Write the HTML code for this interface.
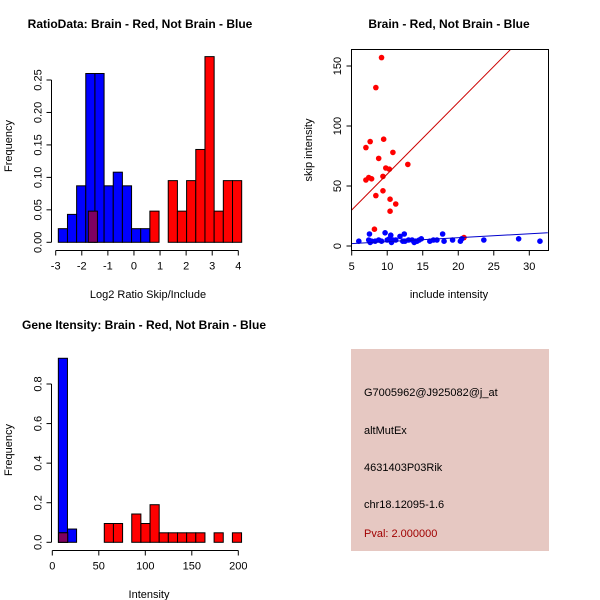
<!DOCTYPE html>
<html><head><meta charset="utf-8"><style>
body{margin:0;background:#fff}
svg{display:block;font-family:"Liberation Sans",Arial,sans-serif}
</style></head><body>
<svg id="c" width="600" height="600" viewBox="0 0 600 600">
<rect width="600" height="600" fill="#fff"/>
<text x="140" y="28" font-size="12" font-weight="bold" text-anchor="middle">RatioData: Brain - Red, Not Brain - Blue</text>
<text x="449" y="28" font-size="12" font-weight="bold" text-anchor="middle">Brain - Red, Not Brain - Blue</text>
<text x="144" y="329" font-size="12" font-weight="bold" text-anchor="middle">Gene Itensity: Brain - Red, Not Brain - Blue</text>
<text x="148" y="298" font-size="11" text-anchor="middle">Log2 Ratio Skip/Include</text>
<text x="12" y="146" font-size="11" text-anchor="middle" transform="rotate(-90 12 146)">Frequency</text>
<text x="449" y="298" font-size="11" text-anchor="middle">include intensity</text>
<text x="312" y="150" font-size="11" text-anchor="middle" transform="rotate(-90 312 150)">skip intensity</text>
<text x="149" y="598" font-size="11" text-anchor="middle">Intensity</text>
<text x="12" y="450" font-size="11" text-anchor="middle" transform="rotate(-90 12 450)">Frequency</text>
<g>
<rect x="351" y="349" width="198" height="202" fill="#e6c8c2"/>
<text x="364" y="396" font-size="11">G7005962@J925082@j_at</text>
<text x="364" y="434" font-size="11">altMutEx</text>
<text x="364" y="471" font-size="11">4631403P03Rik</text>
<text x="364" y="508" font-size="11">chr18.12095-1.6</text>
<text x="364" y="537" font-size="11" fill="#a00000">Pval: 2.000000</text>
</g>
</svg>
<script>
// Ratio histogram data
const ratioBlueStart = -2.9, ratioBlueWidth = 0.351;
const ratioBlueHeights = [0.021,0.043,0.087,0.26,0.26,0.087,0.108,0.087,0.021,0.021];
const ratioRedStart = 0.61, ratioRedWidth = 0.352;
const ratioRedHeights = [0.048,0,0.095,0.048,0.095,0.143,0.286,0.048,0.095,0.095];
const ratioOverlapBins = [[-1.75,-1.4,0.048]];
const ratioXTicks = [-3,-2,-1,0,1,2,3,4];
const ratioYTicks = [0,0.05,0.10,0.15,0.20,0.25];
const ratioYLabels = ["0.00","0.05","0.10","0.15","0.20","0.25"];
// Scatter data
const redInclude = [7,7.4,7.8,7,7.6,8.4,9.2,8.8,9.5,9.8,10.3,10.8,12.9,9.4,8.4,9.4,10.4,11.2,10.4,8.2,20.8];
const redSkip = [55,57,56,82,87,132,157,73,89,65,64,78,68,58,42,46,39,35,29,14,7];
const blueInclude = [6,7.5,7.4,7.8,8.3,8.8,9.2,9.7,10,10.3,10.5,10.8,11.2,11.8,12.4,12.5,13,13.5,14,14.5,14.8,16,16.5,17,17.8,18,19.2,20.3,20.5,23.6,28.5,31.5,7.6,10.6,12.2,13.8,14.2];
const blueSkip = [4,10,5,4,4,5,4,11,5,6,9,5,5,8,10,4,5,5,4,5,6,4,5,5,10,4,5,4,6,5,6,4,3,3,4,3,4];
const redFit = [[5,30],[27.4,164]];
const blueFit = [[4.9,2],[32.6,11]];
const scatterXTicks = [5,10,15,20,25,30];
const scatterYTicks = [0,50,100,150];
// Intensity histogram data
const intBlueStart = 6.5, intBlueWidth = 9.8;
const intBlueHeights = [0.93,0.067];
const intRedStart = 6.7, intRedWidth = 9.84;
const intRedHeights = [0.048,0,0,0,0,0.095,0.095,0,0.143,0.095,0.19,0.048,0.048,0.048,0.048,0.048,0,0.048,0,0.048];
const intOverlapBins = [[6.7,16.5,0.048]];
const intXTicks = [0,50,100,150,200];
const intYTicks = [0,0.2,0.4,0.6,0.8];
const intYLabels = ["0.0","0.2","0.4","0.6","0.8"];

const svg = document.getElementById('c');
const NS = 'http://www.w3.org/2000/svg';
function mk(tag, attrs, parent){const e=document.createElementNS(NS,tag);for(const k in attrs)e.setAttribute(k,attrs[k]);(parent||svg).appendChild(e);return e;}
function lin(d0,d1,r0,r1){return v=>r0+(v-d0)*(r1-r0)/(d1-d0);}

function hist(name,xs,ys,blueStart,blueW,blueH,redStart,redW,redH,overlap,xt,yt,yl,axY,axX){
  const g=mk('g',{});
  
  
  blueH.forEach((h,i)=>{ if(h<=0) return;
    const x0=xs(blueStart+i*blueW),x1=xs(blueStart+(i+1)*blueW);
    const r=mk('rect',{x:x0,y:ys(h),width:x1-x0,height:ys(0)-ys(h),fill:'#0000ff',stroke:'#000','stroke-width':1},g);
    
    
  });
  redH.forEach((h,i)=>{ if(h<=0) return;
    const x0=xs(redStart+i*redW),x1=xs(redStart+(i+1)*redW);
    const r=mk('rect',{x:x0,y:ys(h),width:x1-x0,height:ys(0)-ys(h),fill:'#ff0000',stroke:'#000','stroke-width':1},g);
    
    
  });
  overlap.forEach(b=>{
    const r=mk('rect',{x:xs(b[0]),y:ys(b[2]),width:xs(b[1])-xs(b[0]),height:ys(0)-ys(b[2]),fill:'#800060',stroke:'#000','stroke-width':1},g);
    
    
  });
  mk('line',{x1:xs(xt[0]),x2:xs(xt[xt.length-1]),y1:axY,y2:axY,stroke:'#000'},g);
  xt.forEach(t=>{mk('line',{x1:xs(t),x2:xs(t),y1:axY,y2:axY+5,stroke:'#000'},g);
    const tx=mk('text',{x:xs(t),y:axY+19,'font-size':11,'text-anchor':'middle'},g);tx.textContent=t;
    
    });
  mk('line',{x1:axX,x2:axX,y1:ys(yt[0]),y2:ys(yt[yt.length-1]),stroke:'#000'},g);
  yt.forEach((t,i)=>{mk('line',{x1:axX,x2:axX-5,y1:ys(t),y2:ys(t),stroke:'#000'},g);
    const tx=mk('text',{x:axX-10,y:ys(t),'font-size':11,'text-anchor':'middle',transform:`rotate(-90 ${axX-10} ${ys(t)})`},g);tx.textContent=yl[i];
    
    });
}

hist('ratio-histogram',lin(-3,4,55.7,238.3),lin(0,0.25,242.3,80),ratioBlueStart,ratioBlueWidth,ratioBlueHeights,ratioRedStart,ratioRedWidth,ratioRedHeights,ratioOverlapBins,ratioXTicks,ratioYTicks,ratioYLabels,250.5,51.5);
hist('intensity-histogram',lin(0,200,52.3,238.3),lin(0,0.8,542.3,384),intBlueStart,intBlueWidth,intBlueHeights,intRedStart,intRedWidth,intRedHeights,intOverlapBins,intXTicks,intYTicks,intYLabels,550.5,51.5);

// Scatter
(function(){
  const xs=lin(5,30,351.7,529.3), ys=lin(0,150,246,66);
  const g=mk('g',{});
  
  
  const cp=mk('clipPath',{id:'sc'},g); mk('rect',{x:351.5,y:49.5,width:197,height:201},cp);
  const pl=mk('g',{'clip-path':'url(#sc)'},g);
  redInclude.forEach((x,i)=>{const c=mk('circle',{cx:xs(x),cy:ys(redSkip[i]),r:2.8,fill:'#ff0000'},pl);
    
    });
  blueInclude.forEach((x,i)=>{const c=mk('circle',{cx:xs(x),cy:ys(blueSkip[i]),r:2.8,fill:'#0000ff'},pl);
    
    });
  const l1=mk('line',{x1:xs(redFit[0][0]),y1:ys(redFit[0][1]),x2:xs(redFit[1][0]),y2:ys(redFit[1][1]),stroke:'#cc0000'},pl);
  
  
  const l2=mk('line',{x1:xs(blueFit[0][0]),y1:ys(blueFit[0][1]),x2:xs(blueFit[1][0]),y2:ys(blueFit[1][1]),stroke:'#0000cc'},pl);
  
  
  mk('rect',{x:351.5,y:49.5,width:197,height:201,fill:'none',stroke:'#000'},g);
  scatterXTicks.forEach(t=>{mk('line',{x1:xs(t),x2:xs(t),y1:250.5,y2:255.5,stroke:'#000'},g);
    const tx=mk('text',{x:xs(t),y:270,'font-size':11,'text-anchor':'middle'},g);tx.textContent=t;
    
    });
  scatterYTicks.forEach(t=>{mk('line',{x1:351.5,x2:346.5,y1:ys(t),y2:ys(t),stroke:'#000'},g);
    const tx=mk('text',{x:341,y:ys(t),'font-size':11,'text-anchor':'middle',transform:`rotate(-90 341 ${ys(t)})`},g);tx.textContent=t;
    
    });
})();
</script>
</body></html>
